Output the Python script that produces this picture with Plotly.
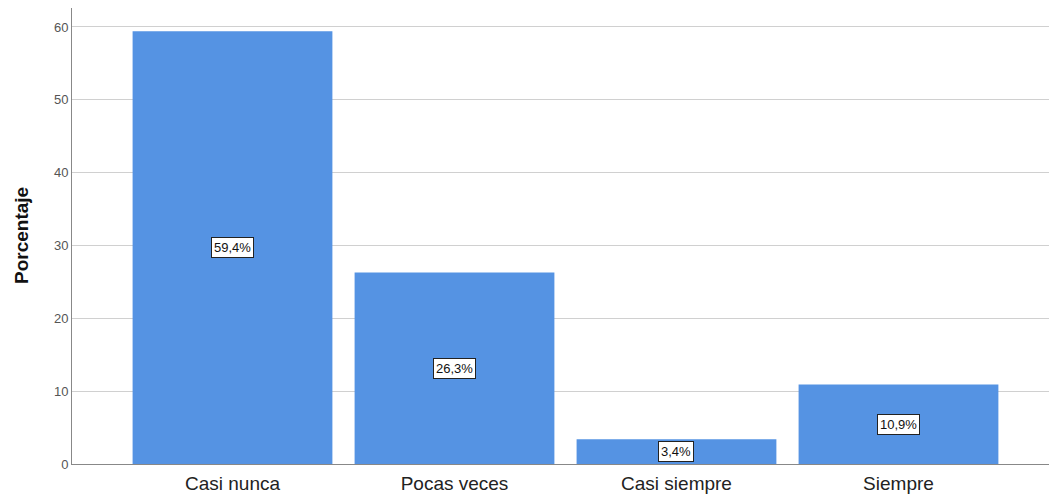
import plotly.graph_objects as go

categories = ["Casi nunca", "Pocas veces", "Casi siempre", "Siempre"]
values = [59.4, 26.3, 3.4, 10.9]
labels = ["59,4%", "26,3%", "3,4%", "10,9%"]

bar_color = "rgb(85,147,227)"

fig = go.Figure()
fig.add_trace(go.Bar(
    x=list(range(len(categories))), y=values,
    marker=dict(color=bar_color, line=dict(width=0)),
    width=0.9, hoverinfo="skip",
))

for i, (v, t) in enumerate(zip(values, labels)):
    fig.add_annotation(
        x=i, y=v / 2, text=t, showarrow=False,
        font=dict(family="Liberation Sans, Arial", size=13, color="#111"),
        bgcolor="white", bordercolor="#222", borderwidth=1, borderpad=2,
    )

plot_w = 1049 - 72
fig.add_annotation(
    xref="paper", yref="paper", x=(21 - 72) / plot_w, y=0.5,
    text="<b>Porcentaje</b>", textangle=-90, showarrow=False,
    xanchor="center", yanchor="middle",
    font=dict(family="Liberation Sans, Arial", size=19, color="#111"),
)

fig.update_layout(
    width=1049, height=494,
    margin=dict(l=72, r=0, t=8, b=30),
    paper_bgcolor="white", plot_bgcolor="white",
    showlegend=False,
    bargap=0.1,
    font=dict(family="Liberation Sans, Arial"),
)
fig.update_xaxes(
    range=[-0.723, 3.678], automargin=False,
    tickmode="array", tickvals=list(range(len(categories))), ticktext=categories,
    tickfont=dict(size=19, color="#222"), ticklabelstandoff=2,
    showline=True, linecolor="#888", linewidth=1,
    showgrid=False, ticks="", zeroline=False,
)
fig.update_yaxes(
    range=[0, 62.6], automargin=False,
    tickvals=[0, 10, 20, 30, 40, 50, 60],
    tickfont=dict(size=13, color="#555"),
    showline=True, linecolor="#888", linewidth=1,
    showgrid=True, gridcolor="#d0d0d0", gridwidth=1,
    ticks="", zeroline=False,
)

fig.write_html(
    "out.html",
    config={"displayModeBar": False},
    post_script="document.body.style.margin='0';document.body.style.padding='0';",
)
